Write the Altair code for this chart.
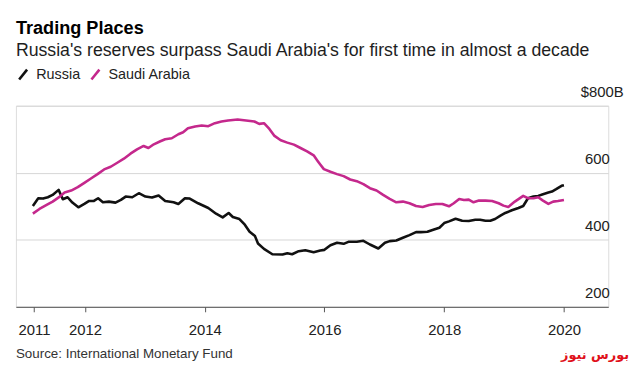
import altair as alt
import pandas as pd

# ---- data ----
russia_year = [2011.13, 2011.22, 2011.30, 2011.38, 2011.46, 2011.56, 2011.63, 2011.71, 2011.79, 2011.89,
               2011.99, 2012.07, 2012.15, 2012.22, 2012.30, 2012.40, 2012.51, 2012.60, 2012.68, 2012.79,
               2012.90, 2013.01, 2013.12, 2013.23, 2013.34, 2013.48, 2013.56, 2013.67, 2013.75, 2013.89,
               2014.06, 2014.19, 2014.30, 2014.40, 2014.47, 2014.58, 2014.67, 2014.75, 2014.84, 2014.89,
               2014.99, 2015.13, 2015.30, 2015.38, 2015.46, 2015.57, 2015.68, 2015.82, 2015.93, 2016.00,
               2016.10, 2016.21, 2016.32, 2016.40, 2016.54, 2016.65, 2016.76, 2016.90, 2017.01, 2017.09,
               2017.20, 2017.31, 2017.42, 2017.53, 2017.61, 2017.72, 2017.83, 2017.92, 2018.00, 2018.08,
               2018.19, 2018.30, 2018.41, 2018.52, 2018.60, 2018.69, 2018.77, 2018.85, 2018.94, 2019.02,
               2019.13, 2019.24, 2019.32, 2019.40, 2019.49, 2019.57, 2019.65, 2019.74, 2019.80, 2019.87,
               2019.96, 2020.00]
russia_value = [501, 524, 523, 527, 534, 549, 521, 527, 511, 497,
                507, 516, 516, 524, 512, 514, 511, 519, 529, 527,
                539, 529, 526, 532, 516, 512, 507, 524, 523, 509,
                495, 478, 467, 480, 468, 462, 445, 424, 411, 389,
                373, 357, 356, 360, 357, 366, 369, 363, 368, 370,
                384, 391, 388, 394, 394, 397, 386, 374, 391, 396,
                398, 406, 414, 423, 423, 424, 431, 436, 450, 455,
                463, 457, 456, 460, 460, 457, 457, 462, 472, 480,
                488, 495, 501, 524, 529, 531, 536, 541, 544, 551,
                561, 563]

saudi_year = [2011.13, 2011.24, 2011.36, 2011.46, 2011.58, 2011.66, 2011.77, 2011.88, 2011.99, 2012.10,
              2012.21, 2012.32, 2012.43, 2012.54, 2012.65, 2012.76, 2012.87, 2012.98, 2013.06, 2013.15,
              2013.26, 2013.34, 2013.45, 2013.56, 2013.64, 2013.72, 2013.84, 2013.95, 2014.06, 2014.17,
              2014.28, 2014.39, 2014.55, 2014.69, 2014.83, 2014.91, 2014.99, 2015.08, 2015.16, 2015.27,
              2015.38, 2015.49, 2015.60, 2015.71, 2015.82, 2015.88, 2015.93, 2015.99, 2016.10, 2016.21,
              2016.32, 2016.43, 2016.54, 2016.65, 2016.76, 2016.87, 2016.98, 2017.09, 2017.20, 2017.31,
              2017.42, 2017.53, 2017.64, 2017.75, 2017.86, 2017.97, 2018.08, 2018.16, 2018.25, 2018.33,
              2018.41, 2018.49, 2018.58, 2018.69, 2018.80, 2018.91, 2018.99, 2019.07, 2019.18, 2019.32,
              2019.40, 2019.49, 2019.57, 2019.65, 2019.74, 2019.82, 2019.90, 2020.00]
saudi_value = [478, 492, 504, 514, 529, 541, 547, 557, 570, 583,
               596, 610, 618, 630, 642, 657, 670, 680, 674, 685,
               694, 700, 703, 715, 721, 733, 738, 741, 739, 748,
               753, 756, 759, 756, 753, 746, 748, 731, 711, 697,
               690, 684, 674, 664, 652, 637, 625, 611, 603, 596,
               590, 580, 575, 566, 554, 547, 534, 522, 512, 514,
               509, 501, 498, 504, 507, 507, 500, 509, 522, 519,
               520, 512, 517, 517, 516, 509, 502, 498, 514, 531,
               524, 524, 527, 517, 507, 514, 516, 519]

series_names = ["Russia", "Saudi Arabia"]
series_colors = ["#111111", "#c4288c"]
x_tick_values = [2011.15, 2012, 2014, 2016, 2018, 2020]
y_tick_values = [200, 400, 600, 800]

title_text = "Trading Places"
subtitle_text = "Russia's reserves surpass Saudi Arabia's for first time in almost a decade"
source_text = "Source: International Monetary Fund"
mark_text = "بورس نیوز"

df = pd.concat([
    pd.DataFrame({"year": russia_year, "value": russia_value, "country": series_names[0]}),
    pd.DataFrame({"year": saudi_year, "value": saudi_value, "country": series_names[1]}),
], ignore_index=True)

W, H = 598, 203
FONT = "Liberation Sans"

lines = alt.Chart(df).mark_line(strokeWidth=2.6, strokeJoin="round").encode(
    x=alt.X("year:Q",
            scale=alt.Scale(domain=[2010.847, 2020.74], nice=False, zero=False),
            axis=alt.Axis(values=x_tick_values, labelExpr="floor(datum.value)", title=None,
                          grid=False, domainColor="#555555", tickColor="#555555", tickSize=5,
                          labelFontSize=15, labelColor="#222222", labelFont=FONT,
                          labelPadding=11, labelFlush=False, labelOverlap=False)),
    y=alt.Y("value:Q",
            scale=alt.Scale(domain=[200, 800], nice=False, zero=False),
            axis=alt.Axis(orient="right", values=y_tick_values, title=None, domain=False,
                          ticks=False, tickSize=0, grid=True, gridColor="#d6d6d6", gridWidth=1,
                          labelAlign="right", labelBaseline="alphabetic", labelOffset=-9,
                          labelPadding={"condition": {"test": "datum.value == 800", "value": 15}, "value": 1},
                          labelFontSize=15, labelColor="#222222", labelFont=FONT,
                          labelExpr="datum.value == 800 ? '$800B' : datum.label")),
    color=alt.Color("country:N",
                    scale=alt.Scale(domain=series_names, range=series_colors),
                    legend=alt.Legend(orient="none", legendX=0, legendY=-39, direction="horizontal",
                                      title=None, symbolType="M-0.8,1L0.8,-1", symbolSize=100,
                                      symbolStrokeWidth=2.6, labelFontSize=14.5, labelFont=FONT,
                                      labelColor="#222222", labelOffset=6, columnPadding=6, padding=0)),
)

def txt(text, x, y, size, color="#222222", weight="normal", align="left", font=FONT):
    return alt.Chart(pd.DataFrame({"t": [text]})).mark_text(
        align=align, baseline="alphabetic", fontSize=size, font=font, fontWeight=weight, color=color
    ).encode(text="t:N", x=alt.value(x), y=alt.value(y))

chart = alt.layer(
    lines,
    txt(title_text, 0, -72, 18.3, "#000000", "bold"),
    txt(subtitle_text, 0, -50, 17.85, "#1e1e1e"),
    txt(source_text, 0, 255, 13.5, "#333333"),
    txt(mark_text, 619, 256, 13, "#e0101a", "bold", "right", "DejaVu Sans"),
).properties(
    width=W, height=H,
    autosize=alt.AutoSizeParams(type="none"),
    padding={"left": 8, "top": 97, "right": 26, "bottom": 54},
).configure_view(strokeWidth=0).configure(background="white")

chart.save("out.html", embed_options={"renderer": "svg", "actions": False})
